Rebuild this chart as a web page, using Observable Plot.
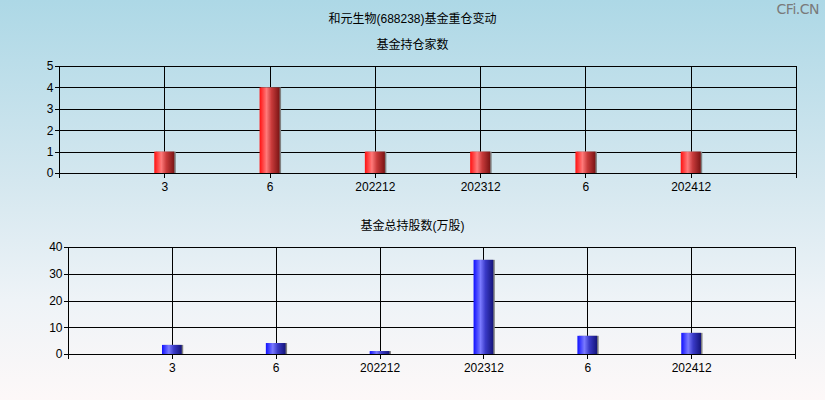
<!DOCTYPE html>
<html>
<head>
<meta charset="utf-8">
<script src="https://cdn.jsdelivr.net/npm/d3@7"></script>
<script src="https://cdn.jsdelivr.net/npm/@observablehq/plot@0.6"></script>
<style>
  html, body { margin: 0; padding: 0; }
  #root {
    position: relative; width: 825px; height: 400px; overflow: hidden;
    background: linear-gradient(to bottom, #add8e6 0%, #d4e7ef 45%, #eef3f7 75%, #fdf8f8 100%);
    font-family: "Liberation Sans", "Noto Sans CJK SC", sans-serif;
  }
  .t { position: absolute; left: 0; width: 825px; text-align: center; font-size: 12px; color: #000;
       font-family: "Liberation Sans", "Noto Sans CJK SC", sans-serif; }
  .wm { position: absolute; right: 6px; top: 1px; font-size: 14px; color: #7a7a7a;
        font-family: "DejaVu Sans", sans-serif; letter-spacing: -0.5px; }
  .chart { position: absolute; left: 0; }
</style>
</head>
<body>
<div id="root">
  <div class="t" style="top:9px">和元生物(688238)基金重仓变动</div>
  <div class="wm">CFi.CN</div>
  <div class="t" style="top:35px">基金持仓家数</div>
  <div class="t" style="top:216px">基金总持股数(万股)</div>
  <div class="chart" id="c1" style="top:56px"></div>
  <div class="chart" id="c2" style="top:237px"></div>
</div>
<script>
const periods = ["3", "6", "202212", "202312", "6", "202412"];
const fundCounts = [1, 4, 1, 1, 1, 1];
const fundShares = [3.4, 4.1, 1.1, 35.2, 6.8, 7.9];
const countTicks = [0, 1, 2, 3, 4, 5];
const shareTicks = [0, 10, 20, 30, 40];

function makeChart(values, yTicks, yMax, gradId, stops, marginLeft, marginRight) {
  const data = values.map((v, i) => ({pos: i + 1, label: periods[i], value: v}));
  const half = 0.095;
  const font = "Liberation Sans, sans-serif";
  const crisp = {shapeRendering: "crispEdges"};
  const svg = Plot.plot({
    width: 825,
    height: 147,
    marginTop: 10,
    marginBottom: 30,
    marginLeft,
    marginRight,
    style: {background: "transparent", fontSize: "12px", fontFamily: font, color: "#000"},
    x: {domain: [0, 7]},
    y: {domain: [0, yMax]},
    marks: [
      Plot.gridY(yTicks, {stroke: "#000", strokeOpacity: 1, strokeWidth: 1, ...crisp}),
      Plot.gridX([1, 2, 3, 4, 5, 6], {stroke: "#000", strokeOpacity: 1, strokeWidth: 1, ...crisp}),
      Plot.rectY(data, {x1: d => d.pos - half, x2: d => d.pos + half, y: "value", fill: "#808080", dx: 1.5}),
      Plot.rectY(data, {x1: d => d.pos - half, x2: d => d.pos + half, y: "value", fill: `url(#${gradId})`}),
      Plot.frame({stroke: "#000", strokeWidth: 1, ...crisp}),
      Plot.axisY(yTicks, {tickSize: 4, tickPadding: 2, label: null, fontSize: 12, stroke: "#000", ...crisp}),
      Plot.axisX([0, 1, 2, 3, 4, 5, 6, 7], {
        tickSize: 5, tickPadding: 4, label: null, fontSize: 12, ...crisp,
        tickFormat: t => (t >= 1 && t <= 6 ? periods[t - 1] : "")
      })
    ]
  });
  const ns = "http://www.w3.org/2000/svg";
  const defs = document.createElementNS(ns, "defs");
  const lg = document.createElementNS(ns, "linearGradient");
  lg.setAttribute("id", gradId);
  lg.setAttribute("x1", "0"); lg.setAttribute("x2", "1");
  lg.setAttribute("y1", "0"); lg.setAttribute("y2", "0");
  for (const [o, c] of stops) {
    const s = document.createElementNS(ns, "stop");
    s.setAttribute("offset", o);
    s.setAttribute("stop-color", c);
    lg.appendChild(s);
  }
  defs.appendChild(lg);
  svg.insertBefore(defs, svg.firstChild);
  return svg;
}

document.getElementById("c1").appendChild(
  makeChart(fundCounts, countTicks, 5, "redGrad",
    [["0", "#ff1010"], ["0.35", "#ff7a7a"], ["0.6", "#c83a3a"], ["1", "#7a1414"]], 59, 29)
);
document.getElementById("c2").appendChild(
  makeChart(fundShares, shareTicks, 40, "blueGrad",
    [["0", "#1010ff"], ["0.35", "#7a7aff"], ["0.6", "#3a3ac8"], ["1", "#14147a"]], 68, 30)
);
</script>
</body>
</html>
